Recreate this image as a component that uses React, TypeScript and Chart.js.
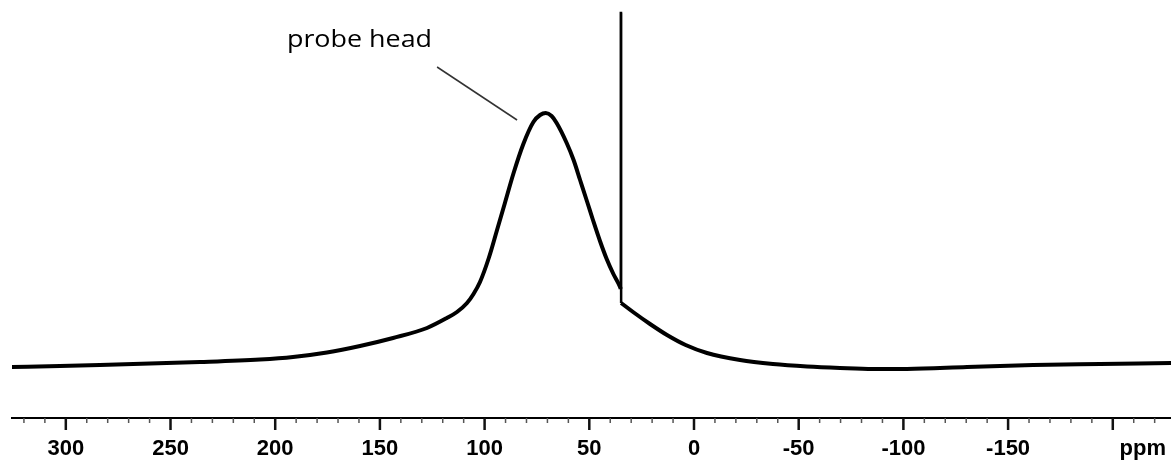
import React, { useEffect, useRef } from 'react';
import { Chart, registerables } from 'chart.js';

Chart.register(...registerables);

// Spectrum (chemical shift in ppm, intensity in arbitrary units; baseline = 0)
// Part left of the narrow signal
const PPM_LEFT = [
  326, 302.8, 283.7, 259.8, 235.9, 207.3, 191.5, 175.3, 159.5, 143.7, 127.5, 118.0,
  113.2, 108.4, 105.3, 102.2, 98.0, 94.2, 90.3, 86.3, 81.5, 76.7, 73.5, 70.8, 68.0,
  65.6, 60.8, 57.5, 54.4, 51.0, 48.1, 44.9, 41.7, 38.5, 35.3, 35.0,
];
const INTENSITY_LEFT = [
  1, 2, 3, 4.5, 6, 8.5, 11, 15.5, 22, 30, 40, 50,
  56, 65, 74, 86, 110, 137, 165, 194, 224, 246, 253, 255, 252,
  245, 225, 208, 188, 166, 147, 127, 109, 94, 81, 79,
];
// Part right of the narrow signal
const PPM_RIGHT = [
  34.8, 29.1, 21.0, 12.9, 4.0, -6.2, -22.0, -37.7, -54.0, -69.7, -85.5, -101.7,
  -130.4, -162.0, -194.0, -228,
];
const INTENSITY_RIGHT = [
  65, 56, 44, 33, 23, 15, 8, 4, 1.5, 0, -1, -1,
  1, 3, 4, 5,
];

// Narrow reference signal
const SPIKE_PPM = [35.0, 34.95, 34.85, 34.8];
const SPIKE_INTENSITY = [79, 355, 355, 65];

// Axis
const X_MAX = 325.7;
const X_MIN = -227.8;
const Y_MIN = -50;
const Y_MAX = 358;
const TICK_FIRST = -220;
const TICK_LAST = 320;
const TICK_STEP = 10;
const MAJOR_STEP = 50;
const UNLABELLED_MAJOR = [-200];
const UNIT_LABEL = 'ppm';
const UNIT_LABEL_PPM = -214.3;

// Annotation
const ANNOT_TEXT = 'probe head';
const ANNOT_TEXT_AT = [194.4, 321];
const ANNOT_LINE_FROM = [122.7, 301];
const ANNOT_LINE_TO = [84.5, 248];

const TICK_VALUES: number[] = [];
for (let v = TICK_FIRST; v <= TICK_LAST; v += TICK_STEP) TICK_VALUES.push(v);
const LABEL_TICKS = [...TICK_VALUES, UNIT_LABEL_PPM].sort((a, b) => a - b);

const isMajor = (v: number) => Math.abs(v % MAJOR_STEP) < 1e-6;

const axisTicksPlugin = {
  id: 'axisTicks',
  afterDraw(chart: any) {
    const s = chart.scales.x;
    const ys = chart.scales.y;
    const ctx = chart.ctx as CanvasRenderingContext2D;
    const y0 = s.top;
    ctx.save();
    for (const v of TICK_VALUES) {
      const px = s.getPixelForValue(v);
      const major = isMajor(v);
      ctx.strokeStyle = major ? '#111' : '#555';
      ctx.lineWidth = major ? 2.5 : 1.5;
      ctx.beginPath();
      ctx.moveTo(px, y0);
      ctx.lineTo(px, y0 + (major ? 12 : 5));
      ctx.stroke();
    }
    // annotation
    ctx.strokeStyle = '#333';
    ctx.lineWidth = 1.5;
    ctx.beginPath();
    ctx.moveTo(s.getPixelForValue(ANNOT_LINE_FROM[0]), ys.getPixelForValue(ANNOT_LINE_FROM[1]));
    ctx.lineTo(s.getPixelForValue(ANNOT_LINE_TO[0]), ys.getPixelForValue(ANNOT_LINE_TO[1]));
    ctx.stroke();
    const tx = s.getPixelForValue(ANNOT_TEXT_AT[0]);
    const ty = ys.getPixelForValue(ANNOT_TEXT_AT[1]);
    ctx.font = '500 24px "Open Sans"';
    ctx.fillStyle = '#000';
    ctx.textBaseline = 'alphabetic';
    ctx.textAlign = 'left';
    ctx.translate(tx, ty);
    ctx.scale(1.12, 1);
    ctx.fillText(ANNOT_TEXT, 0, 0);
    ctx.restore();
  },
};

const curve = (xs: number[], ys: number[]) => ({
  data: xs.map((x, i) => ({ x, y: ys[i] })),
  borderColor: '#000',
  borderWidth: 4,
  pointRadius: 0,
  cubicInterpolationMode: 'monotone',
  fill: false,
});

export default function App() {
  const ref = useRef<HTMLCanvasElement | null>(null);
  useEffect(() => {
    if (!ref.current) return;
    const chart = new Chart(ref.current, {
      type: 'line',
      data: {
        datasets: [
          curve(PPM_LEFT, INTENSITY_LEFT),
          curve(PPM_RIGHT, INTENSITY_RIGHT),
          {
            data: SPIKE_PPM.map((x, i) => ({ x, y: SPIKE_INTENSITY[i] })),
            borderColor: '#000',
            borderWidth: 2.5,
            pointRadius: 0,
            tension: 0,
            fill: false,
          },
        ],
      },
      options: {
        animation: false,
        responsive: false,
        maintainAspectRatio: false,
        layout: { padding: { left: 12, right: 0, top: 10, bottom: 0 } },
        plugins: { legend: { display: false }, tooltip: { enabled: false } },
        scales: {
          x: {
            type: 'linear',
            reverse: true,
            min: X_MIN,
            max: X_MAX,
            afterBuildTicks: (scale: any) => {
              scale.ticks = LABEL_TICKS.map((v) => ({ value: v }));
            },
            afterFit: (scale: any) => {
              scale.height = 44;
              scale.paddingLeft = 0;
              scale.paddingRight = 0;
            },
            grid: { display: true, drawOnChartArea: false, drawTicks: false },
            border: { display: true, color: '#000', width: 2 },
            ticks: {
              autoSkip: false,
              maxRotation: 0,
              padding: 18,
              color: '#000',
              font: { family: '"Liberation Sans", Arial, sans-serif', size: 22, weight: 'bold' },
              callback: (value: any) => {
                const v = Number(value);
                if (Math.abs(v - UNIT_LABEL_PPM) < 1e-6) return UNIT_LABEL;
                if (isMajor(v) && !UNLABELLED_MAJOR.includes(v)) return String(v);
                return '';
              },
            },
          },
          y: { display: false, min: Y_MIN, max: Y_MAX },
        },
      },
      plugins: [axisTicksPlugin],
    } as any);
    return () => chart.destroy();
  }, []);
  return (
    <div style={{ position: 'fixed', left: 0, top: 0, width: 1171, height: 462, background: '#fff' }}>
      <canvas ref={ref} width={1171} height={462} />
    </div>
  );
}
